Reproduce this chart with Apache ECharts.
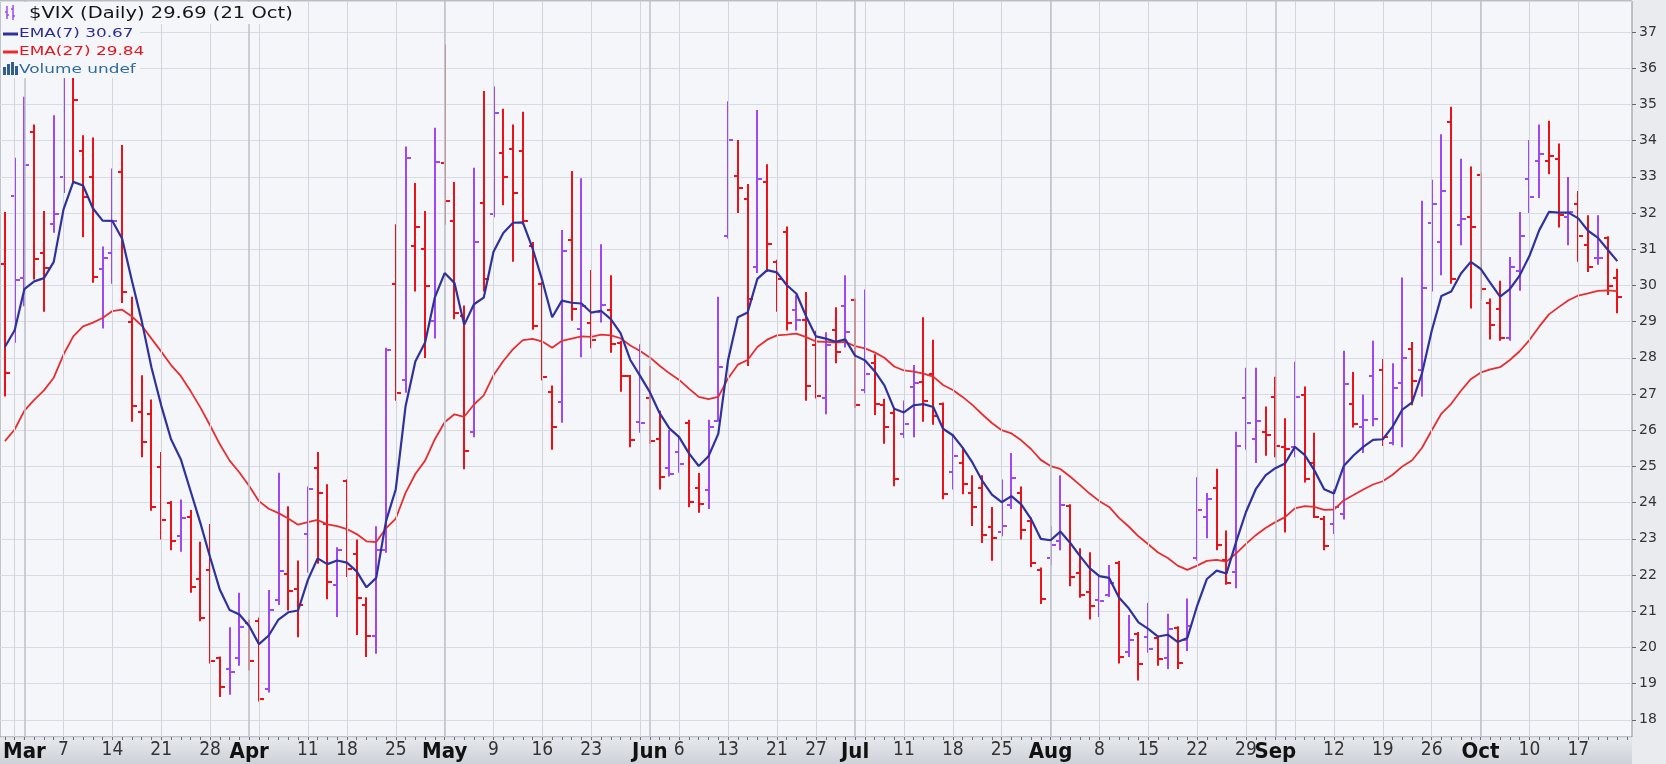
<!DOCTYPE html>
<html><head><meta charset="utf-8">
<script src="https://cdn.jsdelivr.net/npm/echarts@6/dist/echarts.min.js"></script>
<style>html,body{margin:0;padding:0;background:#e9ebef}#c{width:1666px;height:764px}</style>
</head><body><div id="c"></div>
<script>
// ---- categories (trading days) ----
const dates = ['Feb 25','Feb 28',
'Mar 1','Mar 2','Mar 3','Mar 4','Mar 7','Mar 8','Mar 9','Mar 10','Mar 11','Mar 14','Mar 15','Mar 16','Mar 17','Mar 18','Mar 21','Mar 22','Mar 23','Mar 24','Mar 25','Mar 28','Mar 29','Mar 30','Mar 31',
'Apr 1','Apr 4','Apr 5','Apr 6','Apr 7','Apr 8','Apr 11','Apr 12','Apr 13','Apr 14','Apr 18','Apr 19','Apr 20','Apr 21','Apr 22','Apr 25','Apr 26','Apr 27','Apr 28','Apr 29',
'May 2','May 3','May 4','May 5','May 6','May 9','May 10','May 11','May 12','May 13','May 16','May 17','May 18','May 19','May 20','May 23','May 24','May 25','May 26','May 27','May 31',
'Jun 1','Jun 2','Jun 3','Jun 6','Jun 7','Jun 8','Jun 9','Jun 10','Jun 13','Jun 14','Jun 15','Jun 16','Jun 17','Jun 21','Jun 22','Jun 23','Jun 24','Jun 27','Jun 28','Jun 29','Jun 30',
'Jul 1','Jul 5','Jul 6','Jul 7','Jul 8','Jul 11','Jul 12','Jul 13','Jul 14','Jul 15','Jul 18','Jul 19','Jul 20','Jul 21','Jul 22','Jul 25','Jul 26','Jul 27','Jul 28','Jul 29',
'Aug 1','Aug 2','Aug 3','Aug 4','Aug 5','Aug 8','Aug 9','Aug 10','Aug 11','Aug 12','Aug 15','Aug 16','Aug 17','Aug 18','Aug 19','Aug 22','Aug 23','Aug 24','Aug 25','Aug 26','Aug 29','Aug 30','Aug 31',
'Sep 1','Sep 2','Sep 6','Sep 7','Sep 8','Sep 9','Sep 12','Sep 13','Sep 14','Sep 15','Sep 16','Sep 19','Sep 20','Sep 21','Sep 22','Sep 23','Sep 26','Sep 27','Sep 28','Sep 29','Sep 30',
'Oct 3','Oct 4','Oct 5','Oct 6','Oct 7','Oct 10','Oct 11','Oct 12','Oct 13','Oct 14','Oct 17','Oct 18','Oct 19','Oct 20','Oct 21'];

// ---- OHLC values ----
const opens = [30.6,32.46,30.2,34.24,30.9,31.7,33.0,36.8,33.7,33.0,
30.45,30.9,33.13,29.0,26.5,26.45,24.98,24.0,23.07,23.6,
21.9,22.15,19.7,19.39,19.7,20.68,20.74,18.84,21.3,22.03,
21.6,23.13,24.95,23.4,21.72,24.6,22.58,21.17,20.31,22.7,
30.03,27.4,31.1,31.0,29.02,33.38,31.78,29.15,25.96,32.28,
31.97,33.66,33.78,33.72,31.1,30.03,27.06,26.79,31.26,28.8,
28.96,29.27,29.33,28.41,27.49,26.23,26.9,25.77,24.95,25.4,
26.2,24.39,24.34,26.26,31.36,33.01,32.4,30.5,32.85,30.64,
31.48,29.33,29.05,28.35,26.9,28.78,29.42,29.6,27.1,27.86,
26.7,26.47,25.9,27.18,27.33,27.55,26.72,24.85,25.1,24.26,
24.39,23.32,23.2,23.93,24.26,23.5,22.15,22.46,22.95,23.9,
22.05,21.54,21.3,21.44,22.34,19.88,20.37,20.3,20.25,19.72,
20.53,20.21,22.46,23.6,24.39,22.42,22.09,26.88,25.77,25.95,
26.91,25.53,25.53,26.96,25.1,23.56,23.4,23.69,26.72,26.1,
27.5,27.67,25.65,27.3,28.23,27.67,31.72,31.21,34.52,31.66,
31.9,33.05,29.52,29.34,28.56,30.4,32.93,33.44,33.44,33.5,
31.9,32.24,31.11,30.75,31.3,30.2];
const highs = [32.0,33.5,35.18,34.42,32.03,34.67,36.9,37.3,34.12,34.06,
31.05,33.2,33.85,29.66,27.49,26.82,25.37,24.02,24.06,23.77,
22.89,23.38,19.72,20.53,21.48,20.74,20.8,21.56,24.8,23.87,
22.37,24.42,25.37,24.48,22.74,24.62,22.95,21.36,23.32,28.25,
31.66,33.81,32.8,32.03,34.33,36.63,32.83,29.42,33.22,35.34,
35.47,34.85,34.42,34.77,31.17,30.07,27.21,31.5,33.13,32.93,
30.4,31.11,30.25,28.44,27.5,28.35,27.74,26.51,25.98,25.83,
26.26,24.79,26.26,29.66,35.06,33.99,32.77,34.82,33.32,30.68,
31.6,29.7,29.79,28.72,28.68,29.37,30.25,29.61,29.86,28.07,
26.84,26.6,26.79,27.77,29.09,28.47,26.74,25.86,25.49,24.73,
24.73,23.85,24.61,25.34,24.42,23.56,22.18,23.32,24.73,23.93,
22.71,22.6,21.97,22.25,22.36,20.87,20.4,21.2,20.29,20.9,
20.56,21.32,24.67,24.24,24.91,23.2,25.93,27.7,27.7,26.63,
27.45,26.3,27.86,27.18,25.9,23.6,24.34,28.17,27.58,26.96,
28.44,27.94,27.82,30.19,28.41,32.31,32.89,34.15,34.91,33.47,
33.26,33.1,29.61,30.1,30.76,32.0,33.99,34.42,34.52,33.89,
32.97,32.58,31.91,31.91,31.33,30.43];
const lows = [26.96,28.44,29.45,30.19,29.3,31.48,32.58,32.85,31.36,30.1,
28.84,30.07,29.54,26.26,25.28,23.8,23.01,22.71,22.67,21.54,
20.75,19.58,18.66,18.72,19.52,19.39,18.53,18.78,21.2,21.05,
20.31,22.1,22.34,21.36,20.87,21.97,20.37,19.76,19.85,22.64,
26.84,27.06,29.86,28.02,28.56,31.7,29.09,24.95,25.83,29.86,
31.91,32.24,30.68,31.7,28.8,27.4,25.49,26.23,29.05,28.04,
28.29,29.0,28.17,27.09,25.56,25.96,25.65,24.39,24.75,24.85,
23.9,23.75,23.85,26.26,31.32,32.03,27.8,30.37,30.4,29.3,
28.78,28.78,26.84,26.9,26.47,27.88,28.31,26.65,27.05,26.45,
25.65,24.48,25.81,25.83,26.26,26.18,24.12,24.39,24.26,23.38,
22.91,22.42,23.1,23.85,23.01,22.25,21.23,22.3,22.71,21.72,
21.4,20.8,20.87,21.42,19.58,19.76,19.11,19.88,19.52,19.43,
19.43,19.93,22.42,23.04,22.71,21.76,21.66,25.49,25.12,25.32,
25.28,23.2,25.28,24.58,23.6,22.71,23.16,23.56,26.1,25.4,
26.14,25.59,25.61,25.56,26.72,26.96,29.86,30.31,30.07,31.14,
29.39,29.64,28.53,28.5,28.5,29.88,32.03,32.44,33.1,31.63,
31.14,30.68,30.4,30.6,29.76,29.26];
const closes = [27.59,30.15,33.32,30.74,30.48,31.98,36.45,35.13,32.45,30.23,
30.75,31.77,29.83,26.67,25.67,23.87,23.53,22.94,23.57,21.67,
20.81,19.63,18.90,19.33,20.56,19.63,18.57,21.03,22.10,21.55,
21.16,24.37,24.26,21.82,22.70,22.17,21.37,20.32,22.68,28.21,
27.02,33.52,31.60,29.99,33.40,32.34,29.25,25.42,31.20,30.19,
34.75,32.99,32.56,31.77,28.87,27.47,26.10,30.96,29.35,29.43,
28.48,29.45,28.37,27.50,25.72,26.19,25.69,24.72,24.79,25.07,
24.02,23.96,26.09,27.75,34.02,32.69,29.62,32.95,31.13,30.19,
28.95,29.05,27.23,26.95,28.36,28.16,28.71,26.70,27.54,26.73,
26.08,24.64,26.17,27.29,26.82,26.40,24.23,25.30,24.50,23.88,
23.11,23.03,23.36,24.69,23.24,22.33,21.33,22.84,23.93,21.95,
21.44,21.15,21.29,21.77,19.74,20.20,19.53,19.95,19.69,20.50,
19.56,20.60,23.80,24.11,22.82,21.78,25.56,26.21,26.25,25.87,
25.56,25.47,26.91,24.64,23.61,22.79,23.87,27.27,26.16,26.27,
26.30,25.81,27.16,27.99,27.35,29.92,32.26,32.60,30.18,31.84,
31.62,29.90,28.90,28.55,30.52,31.36,32.45,33.63,33.57,31.94,
32.02,31.37,30.50,30.76,29.98,29.69];
const priorClose = 30.32; // close of the day before the first bar (sets first bar colour)

// ---- moving averages ----
const ema7 = [28.30,28.76,29.90,30.11,30.20,30.65,32.10,32.86,32.76,32.13,
31.79,31.78,31.29,30.13,29.02,27.73,26.68,25.75,25.20,24.32,
23.44,22.49,21.59,21.03,20.91,20.59,20.09,20.33,20.77,20.97,
21.02,21.86,22.46,22.30,22.40,22.34,22.10,21.66,21.92,23.49,
24.37,26.66,27.90,28.42,29.67,30.34,30.07,28.91,29.48,29.66,
30.93,31.45,31.73,31.74,31.02,30.13,29.12,29.58,29.52,29.50,
29.25,29.30,29.07,28.68,27.94,27.50,27.05,26.47,26.05,25.81,
25.36,25.01,25.28,25.90,27.93,29.12,29.25,30.18,30.42,30.36,
30.01,29.77,29.14,28.59,28.53,28.44,28.51,28.06,27.93,27.63,
27.24,26.59,26.49,26.69,26.72,26.64,26.04,25.86,25.52,25.11,
24.61,24.22,24.01,24.18,23.95,23.55,23.00,22.96,23.20,22.89,
22.53,22.19,21.97,21.92,21.38,21.08,20.69,20.51,20.30,20.35,
20.15,20.26,21.15,21.89,22.12,22.04,22.92,23.74,24.37,24.75,
24.95,25.08,25.54,25.32,24.89,24.37,24.25,25.01,25.30,25.54,
25.73,25.75,26.10,26.57,26.77,27.56,28.74,29.71,29.83,30.33,
30.65,30.46,30.07,29.69,29.90,30.27,30.81,31.52,32.03,32.01,
32.01,31.85,31.51,31.32,30.99,30.67];
const ema27 = [25.70,26.02,26.54,26.84,27.10,27.45,28.09,28.59,28.87,28.97,
29.10,29.29,29.33,29.14,28.89,28.53,28.17,27.80,27.50,27.08,
26.63,26.13,25.61,25.16,24.83,24.46,24.04,23.83,23.71,23.56,
23.39,23.46,23.52,23.40,23.35,23.27,23.13,22.93,22.91,23.29,
23.56,24.27,24.79,25.16,25.75,26.22,26.44,26.37,26.71,26.96,
27.52,27.91,28.24,28.49,28.52,28.45,28.28,28.47,28.53,28.59,
28.58,28.64,28.62,28.54,28.34,28.19,28.01,27.78,27.57,27.39,
27.15,26.92,26.86,26.92,27.43,27.81,27.94,28.30,28.50,28.62,
28.64,28.67,28.57,28.45,28.44,28.42,28.44,28.32,28.26,28.15,
28.00,27.76,27.65,27.62,27.56,27.48,27.25,27.11,26.92,26.70,
26.44,26.20,26.00,25.91,25.72,25.48,25.18,25.01,24.93,24.72,
24.49,24.25,24.04,23.88,23.58,23.34,23.07,22.85,22.62,22.47,
22.26,22.14,22.26,22.39,22.42,22.37,22.60,22.86,23.10,23.30,
23.46,23.60,23.84,23.90,23.88,23.80,23.81,24.06,24.21,24.36,
24.50,24.59,24.77,25.00,25.17,25.51,25.99,26.46,26.73,27.09,
27.41,27.59,27.68,27.74,27.94,28.18,28.49,28.86,29.20,29.40,
29.59,29.72,29.78,29.85,29.86,29.84];

// ---- x tick labels & gridline dates ----
const xLabelDates = ['Mar 1','Mar 7','Mar 14','Mar 21','Mar 28','Apr 1','Apr 11','Apr 18','Apr 25','May 2','May 9','May 16','May 23','Jun 1','Jun 6','Jun 13','Jun 21','Jun 27','Jul 1','Jul 11','Jul 18','Jul 25','Aug 1','Aug 8','Aug 15','Aug 22','Aug 29','Sep 1','Sep 12','Sep 19','Sep 26','Oct 3','Oct 10','Oct 17'];
const xLabelTexts = ['Mar','7','14','21','28','Apr','11','18','25','May','9','16','23','Jun','6','13','21','27','Jul','11','18','25','Aug','8','15','22','29','Sep','12','19','26','Oct','10','17'];
const weekGridDates = ['Feb 28','Mar 7','Mar 14','Mar 21','Mar 28','Apr 4','Apr 11','Apr 18','Apr 25','May 2','May 9','May 16','May 23','May 31','Jun 6','Jun 13','Jun 21','Jun 27','Jul 5','Jul 11','Jul 18','Jul 25','Aug 1','Aug 8','Aug 15','Aug 22','Aug 29','Sep 6','Sep 12','Sep 19','Sep 26','Oct 3','Oct 10','Oct 17'];
const monthGridDates = ['Mar 1','Apr 1','May 2','Jun 1','Jul 1','Aug 1','Sep 1','Oct 3'];
const yTickValues = [18,19,20,21,22,23,24,25,26,27,28,29,30,31,32,33,34,35,36,37];

// ---- styles ----
const UP = '#9d48f2', DOWN = '#ea1219';
const PLOT_BG = '#f5f6fa';
const NARROW = '"Liberation Sans Narrow","Arial Narrow","DejaVu Sans Condensed","Liberation Sans",sans-serif';

const categories = dates.concat(['']);
const tickText = categories.map(() => '');
xLabelDates.forEach((d, k) => { tickText[dates.indexOf(d)] = xLabelTexts[k]; });

const ohlc = dates.map((d, i) => [i, opens[i], highs[i], lows[i], closes[i]]);

function renderBar(params, api) {
  const i = api.value(0);
  const o = api.value(1), h = api.value(2), l = api.value(3), c = api.value(4);
  const pc = i === 0 ? priorClose : closes[i - 1];
  const color = c > pc ? UP : DOWN;
  const pH = api.coord([i, h]), pL = api.coord([i, l]);
  const pO = api.coord([i, o]), pC = api.coord([i, c]);
  const x = Math.round(pH[0]);
  const t = 4;
  const st = { stroke: color, lineWidth: 2 };
  return { type: 'group', children: [
    { type: 'line', shape: { x1: x, y1: pH[1] - 1, x2: x, y2: pL[1] + 1 }, style: st },
    { type: 'line', shape: { x1: x - t, y1: Math.round(pO[1]), x2: x, y2: Math.round(pO[1]) }, style: st },
    { type: 'line', shape: { x1: x, y1: Math.round(pC[1]), x2: x + t + 1, y2: Math.round(pC[1]) }, style: st }
  ]};
}

const gridLines = weekGridDates.map(d => ({ xAxis: d, lineStyle: { color: '#d2d5dc', width: 1, type: 'solid' } }))
  .concat(monthGridDates.map(d => ({ xAxis: d, lineStyle: { color: '#bcc0c8', width: 1.5, type: 'solid' } })));

const chart = echarts.init(document.getElementById('c'), null, { renderer: 'canvas' });
chart.setOption({
  animation: false,
  backgroundColor: '#e9ebef',
  grid: { left: 0, right: 34, top: 1, bottom: 27, show: true, backgroundColor: PLOT_BG, borderColor: '#8a8f99', borderWidth: 1 },
  xAxis: {
    type: 'category', data: categories, boundaryGap: true, z: 5,
    axisLine: { show: false },
    axisTick: { show: true, interval: 0, alignWithLabel: true, length: 3, lineStyle: { color: '#6b6f78' } },
    splitLine: { show: false },
    axisLabel: {
      interval: (idx) => !!tickText[idx],
      margin: 4,
      formatter: (v, idx) => {
        const t = tickText[idx];
        if (!t) return '';
        return /^[A-Z]/.test(t) ? '{m|' + t + '}' : '{d|' + t + '}';
      },
      rich: {
        m: { fontFamily: NARROW, fontWeight: 'bold', fontSize: 22, color: '#111' },
        d: { fontFamily: NARROW, fontSize: 19, color: '#333' }
      }
    }
  },
  yAxis: {
    type: 'value', position: 'right', min: 17.525, max: 37.856, minInterval: 1, maxInterval: 1,
    axisLine: { show: false },
    axisTick: { show: true, length: 4, lineStyle: { color: '#666' } },
    splitLine: { show: true, lineStyle: { color: '#d8dbe1', width: 1 } },
    axisLabel: {
      showMinLabel: false, showMaxLabel: false, margin: 7,
      color: '#333', fontFamily: '"DejaVu Sans",Verdana,sans-serif', fontSize: 14,
      formatter: v => yTickValues.indexOf(Math.round(v * 1000) / 1000) >= 0 ? String(v) : ''
    }
  },
  series: [
    { type: 'line', data: [], z: 1, silent: true,
      markLine: { silent: true, symbol: ['none', 'none'], label: { show: false }, animation: false, data: gridLines } },
    { type: 'custom', name: '$VIX', data: ohlc, renderItem: renderBar, encode: { x: 0, y: [1, 2, 3, 4] }, z: 3, clip: true },
    { type: 'line', name: 'EMA(27)', data: ema27, showSymbol: false, symbol: 'none', z: 4,
      lineStyle: { color: '#e62e31', width: 1.8 } },
    { type: 'line', name: 'EMA(7)', data: ema7, showSymbol: false, symbol: 'none', z: 5,
      lineStyle: { color: '#30329c', width: 2.2 } }
  ],
  graphic: [
    { type: 'rect', z: -10, shape: { x: 0, y: 738, width: 1632, height: 26 },
      style: { fill: { type: 'linear', x: 0, y: 0, x2: 0, y2: 1, colorStops: [{ offset: 0, color: '#e6e8ec' }, { offset: 1, color: '#cdd1d8' }] } } },
    // legend boxes
    { type: 'rect', z: 100, shape: { x: 1, y: 2, width: 295, height: 22 }, style: { fill: PLOT_BG } },
    { type: 'rect', z: 100, shape: { x: 1, y: 24, width: 139, height: 54 }, style: { fill: PLOT_BG } },
    // row 1 icon (mini OHLC bars)
    { type: 'polyline', z: 101, shape: { points: [[5, 12], [7, 12], [7, 6], [7, 19]] }, style: { stroke: UP, lineWidth: 1.5, fill: null } },
    { type: 'polyline', z: 101, shape: { points: [[11, 9], [13, 9], [13, 5], [13, 20], [13, 16], [15, 16]] }, style: { stroke: UP, lineWidth: 1.5, fill: null } },
    { type: 'polyline', z: 101, shape: { points: [[7, 15], [9, 15]] }, style: { stroke: UP, lineWidth: 1.5, fill: null } },
    { type: 'text', z: 101, x: 29, y: 14, scaleX: 1.3, style: { text: '$VIX (Daily) 29.69 (21 Oct)', font: '15px "DejaVu Sans"', fill: '#151515', verticalAlign: 'middle' } },
    // row 2
    { type: 'line', z: 101, shape: { x1: 3, y1: 34, x2: 18, y2: 34 }, style: { stroke: '#30329c', lineWidth: 3 } },
    { type: 'text', z: 101, x: 19, y: 34, scaleX: 1.3, style: { text: 'EMA(7) 30.67', font: '13px "DejaVu Sans"', fill: '#2a2c9a', verticalAlign: 'middle' } },
    // row 3
    { type: 'line', z: 101, shape: { x1: 3, y1: 52, x2: 18, y2: 52 }, style: { stroke: '#e62e31', lineWidth: 3 } },
    { type: 'text', z: 101, x: 19, y: 52, scaleX: 1.3, style: { text: 'EMA(27) 29.84', font: '13px "DejaVu Sans"', fill: '#e3161d', verticalAlign: 'middle' } },
    // row 4 icon (volume bars)
    { type: 'rect', z: 101, shape: { x: 3, y: 67, width: 3, height: 8 }, style: { fill: '#2f5f8f' } },
    { type: 'rect', z: 101, shape: { x: 7, y: 64, width: 3, height: 11 }, style: { fill: '#2f5f8f' } },
    { type: 'rect', z: 101, shape: { x: 11, y: 62, width: 3, height: 13 }, style: { fill: '#2f5f8f' } },
    { type: 'rect', z: 101, shape: { x: 15, y: 66, width: 3, height: 9 }, style: { fill: '#2f5f8f' } },
    { type: 'text', z: 101, x: 19, y: 70, scaleX: 1.3, style: { text: 'Volume undef', font: '13px "DejaVu Sans"', fill: '#2e6a9c', verticalAlign: 'middle' } }
  ]
});
</script>
</body></html>
